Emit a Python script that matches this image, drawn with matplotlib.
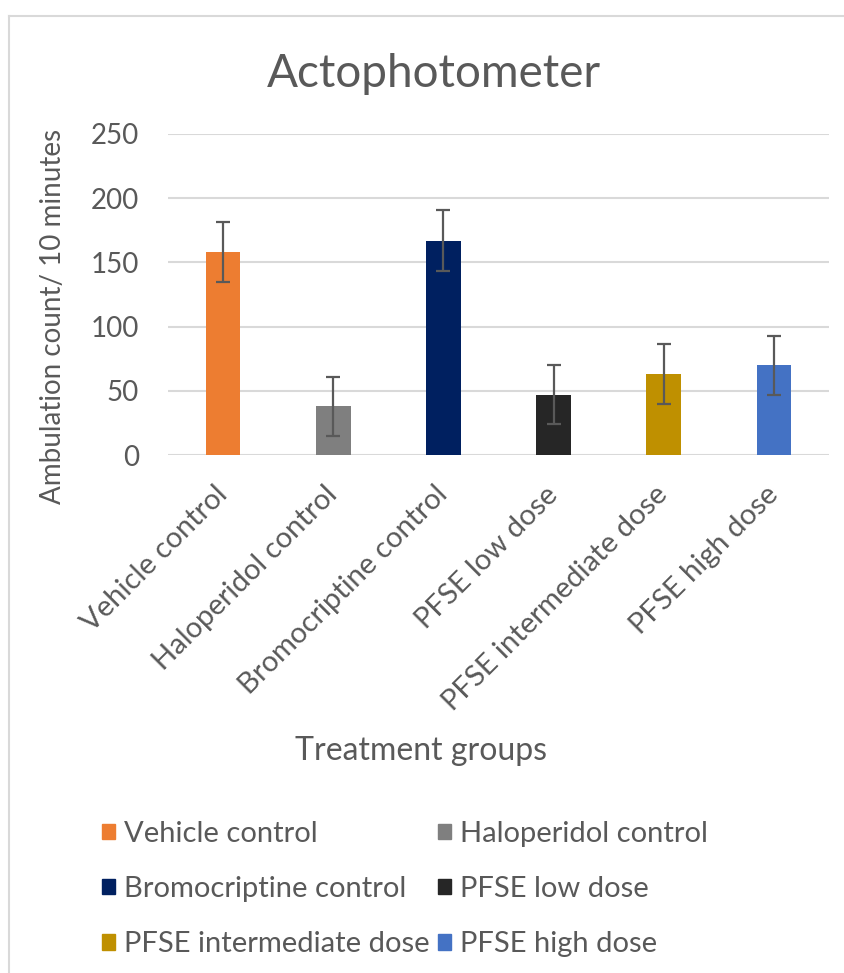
import matplotlib.pyplot as plt
import matplotlib.patches as patches
import matplotlib.transforms as mtransforms
from matplotlib.lines import Line2D

groups = ["Vehicle control", "Haloperidol control", "Bromocriptine control",
          "PFSE low dose", "PFSE intermediate dose", "PFSE high dose"]
counts = [158, 38, 167, 47, 63, 70]
errors = [23.5, 23.0, 23.5, 23.0, 23.5, 23.0]
colors = ["#ED7D31", "#7F7F7F", "#002060", "#262626", "#BF9000", "#4472C4"]

text_gray = "#595959"
plt.rcParams['font.family'] = ['Lato', 'DejaVu Sans']

fig = plt.figure(figsize=(8.45, 9.73), dpi=100)
ax = fig.add_axes([168 / 845, 1 - 455 / 973, 661 / 845, 321 / 973])

x = list(range(len(groups)))
ax.bar(x, counts, width=0.315, color=colors, zorder=3)
ax.errorbar(x, counts, yerr=errors, fmt='none', ecolor=text_gray,
            elinewidth=1.6, capsize=5, capthick=1.6, zorder=4)

ax.set_xlim(-0.5, len(groups) - 0.5)
ax.set_ylim(0, 250)
ax.set_yticks(range(0, 251, 50))
ax.yaxis.grid(True, color="#D9D9D9", linewidth=1.5, zorder=0)
ax.set_axisbelow(True)
for s in ax.spines.values():
    s.set_visible(False)
ax.tick_params(axis='both', length=0, labelcolor=text_gray)
ax.tick_params(axis='y', labelsize=20, pad=21)
ax.set_xticks(x)
ax.set_xticklabels(groups, rotation=45, ha='right', rotation_mode='anchor')
ax.tick_params(axis='x', labelsize=21, pad=19)
# small sideways nudge of the rotated labels
shift = mtransforms.ScaledTranslation(-9 / 100, 0, fig.dpi_scale_trans)
for lbl in ax.get_xticklabels():
    lbl.set_transform(lbl.get_transform() + shift)

ax.set_title("Actophotometer", fontsize=33, color=text_gray, pad=34, x=0.402)
ax.set_ylabel("Ambulation count/ 10 minutes", fontsize=20, color=text_gray)
ax.yaxis.set_label_coords(-0.155, 0.433)
ax.set_xlabel("Treatment groups", fontsize=23, color=text_gray)
ax.xaxis.set_label_coords(0.383, -0.875)

# legend, filled row by row like the original
order = [0, 2, 4, 1, 3, 5]
handles = [patches.Patch(color=colors[i], label=groups[i]) for i in order]
fig.legend(handles=handles, ncol=2, loc='upper left',
           bbox_to_anchor=(96 / 845, 1 - 815 / 973), frameon=False,
           fontsize=21, labelcolor=text_gray, handlelength=0.45,
           handleheight=0.45, handletextpad=0.3, labelspacing=1.0,
           columnspacing=0.3, borderaxespad=0, borderpad=0.2)

# light frame around the chart (left and top only are visible)
fig.add_artist(Line2D([9 / 845, 9 / 845], [0, 1 - 16 / 973], color="#D9D9D9",
                      linewidth=1.5, transform=fig.transFigure))
fig.add_artist(Line2D([9 / 845, 1], [1 - 16 / 973, 1 - 16 / 973], color="#D9D9D9",
                      linewidth=1.5, transform=fig.transFigure))

fig.savefig("out.png", dpi=100)
